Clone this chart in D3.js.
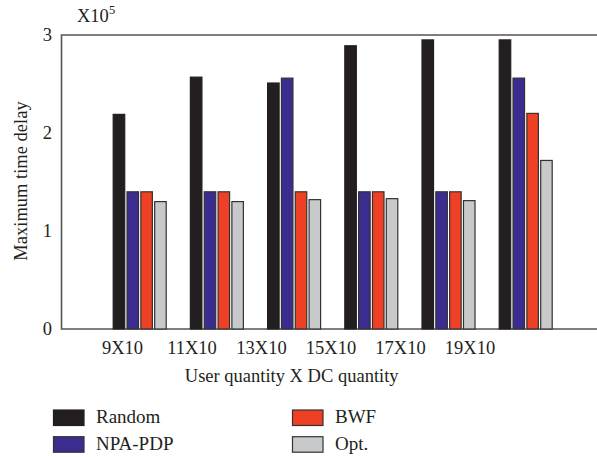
<!DOCTYPE html>
<html>
<head>
<meta charset="utf-8">
<script src="https://cdn.jsdelivr.net/npm/d3@7"></script>
<style>
  html, body { margin: 0; padding: 0; background: #fff; }
  svg { display: block; }
  text { font-family: "Liberation Serif", "Times New Roman", serif; fill: #231f20; }
</style>
</head>
<body>
<svg id="chart" width="597" height="457"></svg>
<script>
// ---- data ----
const categories = ["9X10", "11X10", "13X10", "15X10", "17X10", "19X10"];
const seriesNames = ["Random", "NPA-PDP", "BWF", "Opt."];
const randomVals = [2.19, 2.57, 2.51, 2.89, 2.95, 2.95];
const npaVals    = [1.40, 1.40, 2.56, 1.40, 1.40, 2.56];
const bwfVals    = [1.40, 1.40, 1.40, 1.40, 1.40, 2.20];
const optVals    = [1.30, 1.30, 1.32, 1.33, 1.31, 1.72];
const yTicks = [0, 1, 2, 3];
const colors = ["#231f20", "#3a2d8f", "#ee4025", "#c8c9cb"];

const seriesValues = [randomVals, npaVals, bwfVals, optVals];

// ---- layout ----
const svg = d3.select("#chart");
const fontSize = 18.5;
const plotLeft = 61.5, plotTop = 35, plotBottom = 329, plotRight = 597;

const y = d3.scaleLinear().domain([0, 3]).range([plotBottom, plotTop]);
// group centres: slot 0 is left empty, groups occupy slots 1..6
const x = d3.scaleLinear().domain([0, 7]).range([62.5, 602.9]);
// bars within a group
const inner = d3.scaleBand().domain(seriesNames).range([-26.5, 26.5]).paddingInner(0.167);
// category labels (placed as in the reference)
const xLab = d3.scalePoint().domain(categories).range([122.5, 470]);

// frame
svg.append("path")
  .attr("d", `M${plotRight},${plotTop}H${plotLeft}V${plotBottom}H${plotRight}`)
  .attr("fill", "none").attr("stroke", "#555").attr("stroke-width", 1.6);

// bars
const groups = svg.append("g").selectAll("g")
  .data(categories).join("g")
  .attr("transform", (d, i) => `translate(${x(i + 1)},0)`);

groups.selectAll("rect")
  .data((d, i) => seriesNames.map((s, k) => ({ s, k, v: seriesValues[k][i] })))
  .join("rect")
  .attr("x", d => inner(d.s))
  .attr("width", inner.bandwidth())
  .attr("y", d => y(d.v))
  .attr("height", d => y(0) - y(d.v))
  .attr("fill", d => colors[d.k])
  .attr("stroke", d => d.k === 0 ? "#231f20" : "#333")
  .attr("stroke-width", 1.2);

// y ticks
svg.append("g").selectAll("text")
  .data(yTicks).join("text")
  .attr("x", 52).attr("y", d => y(d))
  .attr("dy", "0.35em")
  .attr("text-anchor", "end")
  .attr("font-size", fontSize)
  .text(d => d);

// exponent
const ex = svg.append("text").attr("x", 77).attr("y", 22).attr("font-size", fontSize);
ex.append("tspan").text("X10");
ex.append("tspan").attr("dy", -8).attr("font-size", 12.5).text("5");

// category labels
svg.append("g").selectAll("text")
  .data(categories).join("text")
  .attr("x", d => xLab(d)).attr("y", 353.5)
  .attr("text-anchor", "middle")
  .attr("font-size", fontSize)
  .text(d => d);

// axis titles
svg.append("text")
  .attr("x", 291.7).attr("y", 382)
  .attr("text-anchor", "middle")
  .attr("font-size", fontSize)
  .text("User quantity X DC quantity");

svg.append("text")
  .attr("transform", "translate(27,181) rotate(-90)")
  .attr("text-anchor", "middle")
  .attr("font-size", fontSize)
  .text("Maximum time delay");

// legend
const legendPos = [
  { x: 53.5, y: 410 }, { x: 53.5, y: 436.7 },
  { x: 292.5, y: 410 }, { x: 292.5, y: 436.7 }
];
const leg = svg.append("g").selectAll("g")
  .data(seriesNames).join("g")
  .attr("transform", (d, i) => `translate(${legendPos[i].x},${legendPos[i].y})`);
leg.append("rect")
  .attr("width", 30.5).attr("height", 15.5)
  .attr("fill", (d, i) => colors[i])
  .attr("stroke", (d, i) => i === 0 ? "#231f20" : "#333")
  .attr("stroke-width", 1.2);
leg.append("text")
  .attr("x", 42.5).attr("y", 13)
  .attr("font-size", 19)
  .text(d => d);
</script>
</body>
</html>
